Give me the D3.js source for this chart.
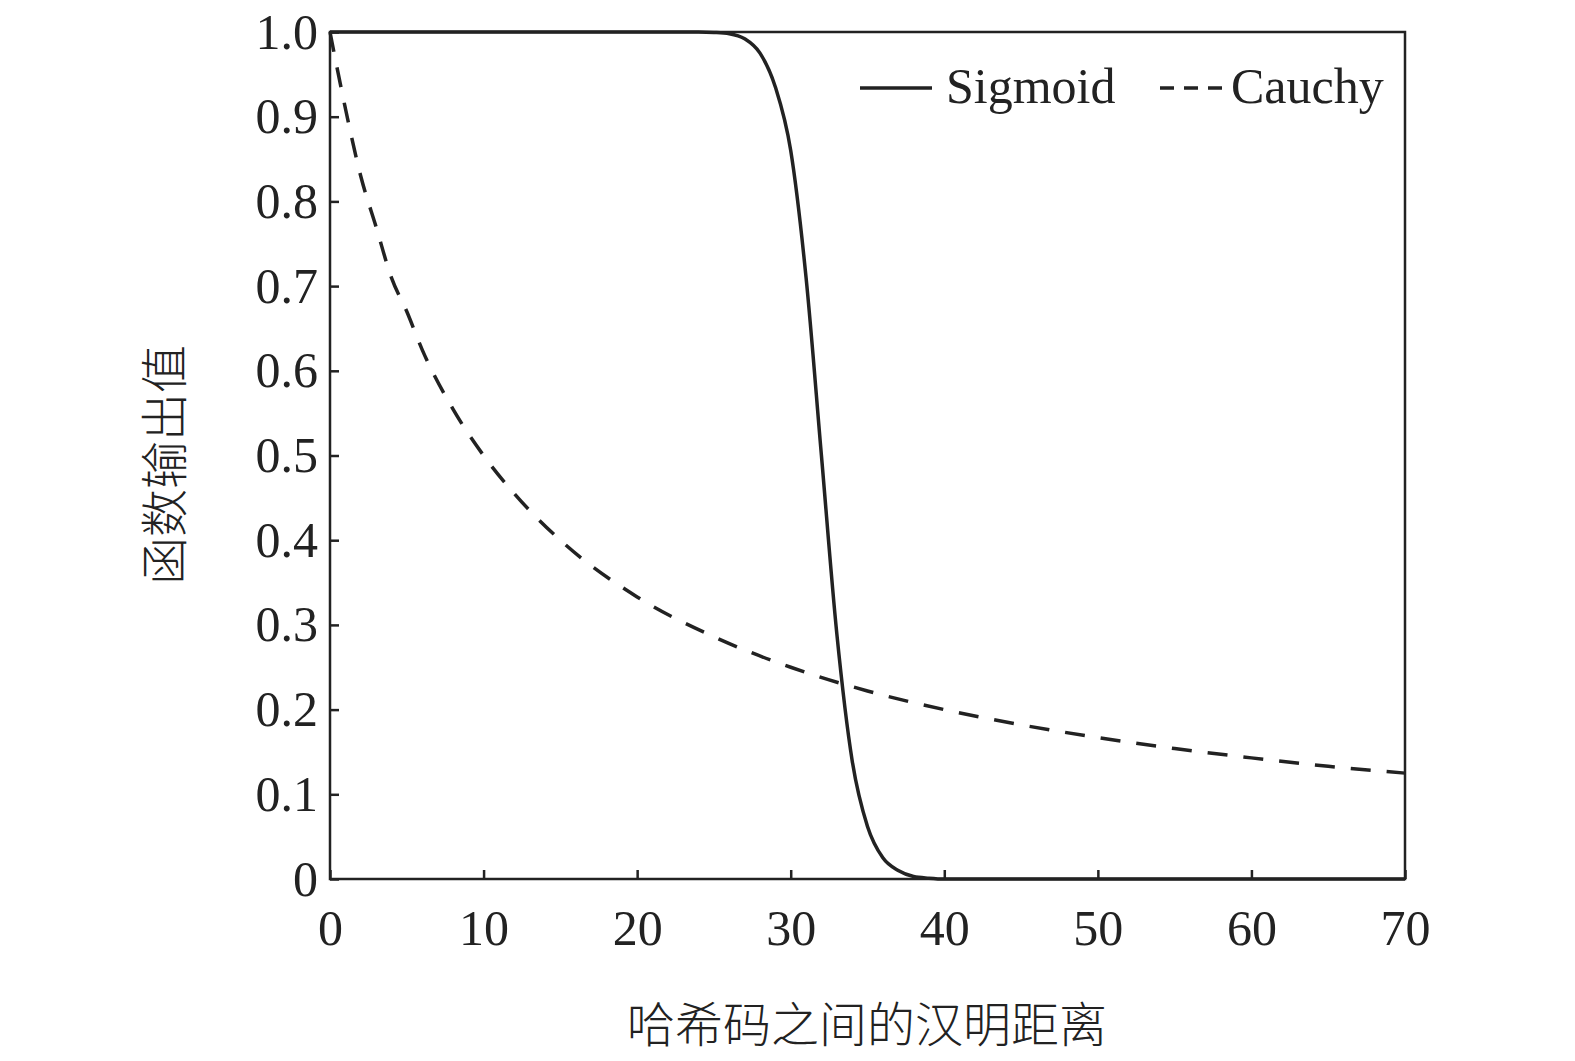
<!DOCTYPE html>
<html><head><meta charset="utf-8">
<script src="https://cdn.jsdelivr.net/npm/d3@7/dist/d3.min.js"></script>
<style>body{margin:0;background:#fff}</style>
</head><body>
<script>
/* Data */
const sigmoidX = [0, 5, 10, 15, 20, 24, 25, 26, 27, 28, 29, 30, 31, 32, 33, 34, 35, 36, 37, 38, 39, 40, 50, 60, 70];
const sigmoidY = [1, 1, 1, 1, 1, 1, 0.9995, 0.998, 0.992, 0.975, 0.935, 0.86, 0.71, 0.5, 0.29, 0.14, 0.062, 0.025, 0.01, 0.003, 0.001, 0, 0, 0, 0];
const cauchyX = [0, 1, 2, 3, 4, 5, 6, 8, 10, 12, 15, 20, 25, 30, 35, 40, 45, 50, 55, 60, 65, 70];
const cauchyY = [1, 0.91, 0.83, 0.77, 0.71, 0.67, 0.625, 0.555, 0.5, 0.455, 0.4, 0.333, 0.286, 0.25, 0.222, 0.2, 0.182, 0.167, 0.154, 0.143, 0.133, 0.125];
const xTicks = [0, 10, 20, 30, 40, 50, 60, 70];
const yTicks = [0, 0.1, 0.2, 0.3, 0.4, 0.5, 0.6, 0.7, 0.8, 0.9, 1.0];

const L = 330, R = 1405, T = 32, B = 879;
const svg = d3.select("body").append("svg").attr("width", 1575).attr("height", 1061);
const x = d3.scaleLinear().domain([0, 70]).range([L, R]);
const y = d3.scaleLinear().domain([0, 1]).range([B, T]);
const serif = "'Liberation Serif','Times New Roman',serif";

/* Frame */
svg.append("rect").attr("x", L).attr("y", T).attr("width", R - L).attr("height", B - T)
  .attr("fill", "none").attr("stroke", "#222").attr("stroke-width", 2.5);

/* Axes */
const xAxis = svg.append("g").attr("transform", `translate(0,${B})`)
  .call(d3.axisBottom(x).tickValues(xTicks).tickSize(-9).tickPadding(30).tickFormat(d3.format("d")));
const yAxis = svg.append("g").attr("transform", `translate(${L},0)`)
  .call(d3.axisLeft(y).tickValues(yTicks).tickSize(-9).tickPadding(12)
    .tickFormat(d => d === 0 ? "0" : d3.format(".1f")(d)));
[xAxis, yAxis].forEach(g => {
  g.select(".domain").remove();
  g.selectAll("line").attr("stroke", "#222").attr("stroke-width", 2.5);
  g.selectAll("text").attr("font-family", serif).attr("font-size", 50).attr("fill", "#222");
});
xAxis.selectAll("text").attr("dy", "0.71em");

/* Axis titles */
svg.append("text").attr("x", 867).attr("y", 1042).attr("text-anchor", "middle")
  .attr("font-family", "'Noto Sans CJK SC'").attr("font-size", 48).attr("font-weight", 300).attr("fill", "#222")
  .text("哈希码之间的汉明距离");
svg.append("text").attr("transform", "translate(182,465) rotate(-90)").attr("text-anchor", "middle")
  .attr("font-family", "'Noto Sans CJK SC'").attr("font-size", 48).attr("font-weight", 300).attr("fill", "#222")
  .text("函数输出值");

/* Lines */
const line = d3.line().x(d => x(d[0])).y(d => y(d[1])).curve(d3.curveMonotoneX);
svg.append("path").datum(sigmoidX.map((v, i) => [v, sigmoidY[i]])).attr("d", line)
  .attr("fill", "none").attr("stroke", "#222").attr("stroke-width", 3.5);
svg.append("path").datum(cauchyX.map((v, i) => [v, cauchyY[i]])).attr("d", line)
  .attr("fill", "none").attr("stroke", "#222").attr("stroke-width", 3.5).attr("stroke-dasharray", "20,16");

/* Legend */
svg.append("line").attr("x1", 860).attr("x2", 932).attr("y1", 88).attr("y2", 88)
  .attr("stroke", "#222").attr("stroke-width", 3.5);
svg.append("text").attr("x", 946).attr("y", 103).attr("font-family", serif).attr("font-size", 50)
  .attr("fill", "#222").text("Sigmoid");
svg.append("line").attr("x1", 1160).attr("x2", 1222).attr("y1", 88).attr("y2", 88)
  .attr("stroke", "#222").attr("stroke-width", 3.5).attr("stroke-dasharray", "14,10");
svg.append("text").attr("x", 1231).attr("y", 103).attr("font-family", serif).attr("font-size", 50)
  .attr("fill", "#222").text("Cauchy");
</script>
</body></html>
